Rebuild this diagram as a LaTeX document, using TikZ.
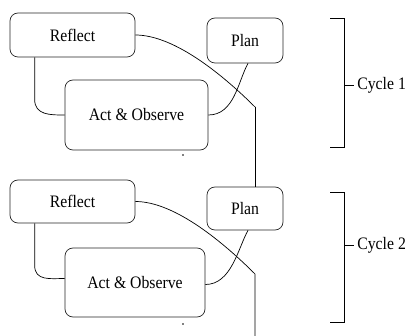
\documentclass[tikz,border=0pt]{standalone}
\usepackage{fontspec}
\setmainfont{Liberation Serif}[FakeStretch=0.9]
\usetikzlibrary{positioning}

\begin{document}
\begin{tikzpicture}[x=1pt,y=-1pt,line width=0.7pt]
\tikzstyle{every node}+=[font=\fontsize{17.5}{20}\selectfont]
\tikzstyle{stage}=[draw=black!85,rounded corners=8pt,inner sep=0pt]
\useasboundingbox (0,0) rectangle (406,336);
% cycle 1
\node [stage,minimum width=125pt,minimum height=44pt] (reflectA) at (72.5,35) {Reflect};
\node [stage,minimum width=76pt,minimum height=45pt] (planA) at (245,40.5) {Plan};
\node [stage,minimum width=143pt,minimum height=70pt] (actA) at (136.5,115) {Act \& Observe};
\coordinate (turnA) at (255,107);
\draw ([xshift=25pt]reflectA.south west) -- ++(0,42) .. controls +(0,16) and +(-14,0) .. (actA.west);
\draw (actA.east) .. controls +(26,0) and +(-10,18) .. ([xshift=3pt]planA.south);
\draw (reflectA.east) .. controls +(40,0) and +(-30,-30) .. (turnA);
% cycle 2
\node [stage,minimum width=125pt,minimum height=43pt] (reflectB) at (72.5,201.5) {Reflect};
\node [stage,minimum width=76pt,minimum height=43pt] (planB) at (245,208.5) {Plan};
\node [stage,minimum width=140pt,minimum height=69pt] (actB) at (135,282.5) {Act \& Observe};
\coordinate (turnB) at (255,274);
\coordinate (endB) at (255,336);
\draw (turnA) -- (planB.north -| turnA);
\draw ([xshift=25pt]reflectB.south west) -- ++(0,42) .. controls +(0,16) and +(-14,0) .. ([yshift=4pt]actB.west);
\draw ([yshift=-2pt]actB.east) .. controls +(26,0) and +(-10,18) .. ([xshift=3pt]planB.south);
\draw (reflectB.east) .. controls +(40,0) and +(-30,-30) .. (turnB) -- (endB);
\fill (183,155) circle (0.8);
\fill (183,324) circle (0.8);
% brackets
\draw (330,18) -- (344,18) -- (344,147) -- (330,147);
\draw (344,85) -- (354,85);
\node [anchor=west,inner sep=0pt] (cycleA) at (357,85) {Cycle 1};
\draw (330,192) -- (344,192) -- (344,322) -- (330,322);
\draw (344,245) -- (354,245);
\node [anchor=west,inner sep=0pt] (cycleB) at (357,245) {Cycle 2};
\end{tikzpicture}
\end{document}
